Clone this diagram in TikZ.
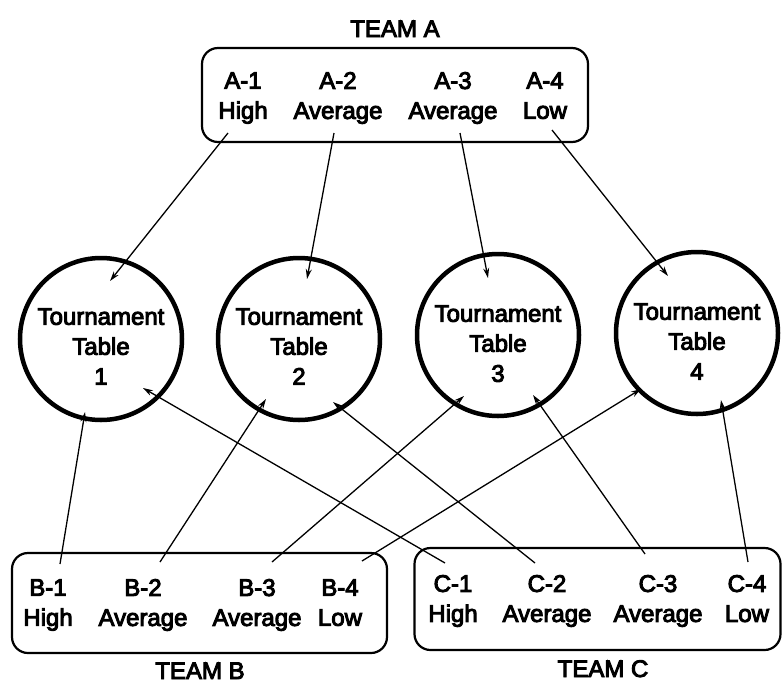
\documentclass[tikz,border=0pt]{standalone}
\usepackage{fontspec}
\setmainfont{Liberation Sans}
\newfontfamily\lblfont{Liberation Sans}[FakeBold=4]
\usetikzlibrary{arrows.meta,calc}
\begin{document}
\begin{tikzpicture}[x=1pt,y=-1pt,
  txt/.style={font=\lblfont\fontsize{24}{30}\selectfont, align=center, inner sep=0pt,
    execute at begin node=\strut, execute at end node=\strut},
  team/.style={draw, line width=2.2pt, rounded corners=16pt, inner sep=0pt},
  tbl/.style={draw, circle, line width=4.5pt, minimum size=162pt, inner sep=0pt},
  arr/.style={line width=1.3pt, -{Stealth[length=10pt,width=6pt]}}
]
\useasboundingbox (0,0) rectangle (782,683);

% team frames
\node[team, minimum width=386pt, minimum height=94pt]  (boxA) at (395,95) {};
\node[team, minimum width=375pt, minimum height=100pt] (boxB) at (199.5,603) {};
\node[team, minimum width=366pt, minimum height=102pt] (boxC) at (597.5,599) {};

% team titles
\node[txt] (titleA) at (395,31)  {TEAM A};
\node[txt] (titleB) at (200,673) {TEAM B};
\node[txt] (titleC) at (603,671) {TEAM C};

% team members
\node[txt] (a1) at (243,100) {A-1\\High};
\node[txt] (a2) at (338,100) {A-2\\Average};
\node[txt] (a3) at (453,100) {A-3\\Average};
\node[txt] (a4) at (545,100) {A-4\\Low};

\node[txt] (b1) at (48,607)  {B-1\\High};
\node[txt] (b2) at (143,607) {B-2\\Average};
\node[txt] (b3) at (257,607) {B-3\\Average};
\node[txt] (b4) at (340,607) {B-4\\Low};

\node[txt] (c1) at (453,603) {C-1\\High};
\node[txt] (c2) at (547,603) {C-2\\Average};
\node[txt] (c3) at (658,603) {C-3\\Average};
\node[txt] (c4) at (747,603) {C-4\\Low};

% tournament tables
\node[tbl] (t1) at (101,339) {};
\node[tbl] (t2) at (299,339) {};
\node[tbl] (t3) at (498,335) {};
\node[tbl] (t4) at (697,333) {};
\node[txt] (l1) at (101,351) {Tournament\\Table\\1};
\node[txt] (l2) at (299,351) {Tournament\\Table\\2};
\node[txt] (l3) at (498,348) {Tournament\\Table\\3};
\node[txt] (l4) at (697,346) {Tournament\\Table\\4};

% team A assignments
\draw[arr] ($(a1)+(-15,33)$) -- ($(t1)+(9,-58)$);
\draw[arr] ($(a2)+(-4,33)$)  -- ($(t2)+(8,-60)$);
\draw[arr] ($(a3)+(7,33)$)   -- ($(t3)+(-10,-57)$);
\draw[arr] ($(a4)+(7,30)$)   -- ($(t4)+(-29,-57)$);

% team B assignments
\draw[arr] ($(b1)+(12,-43)$) -- ($(t1)+(-16,73)$);
\draw[arr] ($(b2)+(17,-45)$) -- ($(t2)+(-33,60)$);
\draw[arr] ($(b3)+(15,-45)$) -- ($(t3)+(-34,61)$);
\draw[arr] ($(b4)+(22,-46)$) -- ($(t4)+(-56,56)$);

% team C assignments
\draw[arr] ($(c1)+(-8,-40)$)  -- ($(t1)+(42,49)$);
\draw[arr] ($(c2)+(-12,-40)$) -- ($(t2)+(34,63)$);
\draw[arr] ($(c3)+(-13,-49)$) -- ($(t3)+(35,60)$);
\draw[arr] ($(c4)+(1,-41)$)   -- ($(t4)+(24,67)$);
\end{tikzpicture}
\end{document}
